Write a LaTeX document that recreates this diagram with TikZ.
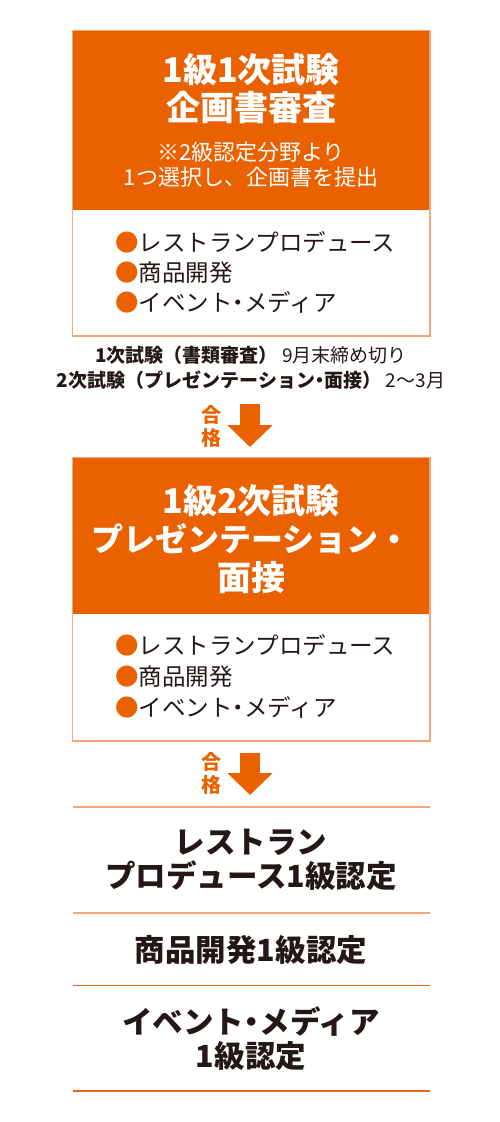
\documentclass[tikz,border=0pt]{standalone}
\usepackage{fontspec}
\setmainfont{Noto Sans CJK JP}
\usepackage{tikz}
\usetikzlibrary{positioning}
\usetikzlibrary{arrows.meta}
\definecolor{orng}{RGB}{234,97,0}
\definecolor{lorng}{RGB}{244,168,120}
\definecolor{dorng}{RGB}{226,100,30}
\definecolor{ink}{RGB}{35,24,21}
\newcommand{\bul}{\textcolor{orng}{●}}
\newcommand{\nakaten}{\hspace{-0.25em}・\hspace{-0.25em}}
\tikzset{%
  wbox/.style = {rectangle,draw=lorng,line width=1.5pt,fill=white,
        minimum width=357.5pt,inner sep=0pt},
  obox/.style = {rectangle,fill=orng,minimum width=356pt,inner sep=0pt},
  ttl/.style = {text=white,align=center,inner sep=0pt,
        font=\bfseries\fontsize{34}{38}\selectfont},
  sub/.style = {text=white,align=center,inner sep=0pt,
        font=\fontsize{22}{25}\selectfont},
  lst/.style = {text=ink,align=left,inner sep=0pt,anchor=west,
        font=\fontsize{23.5}{30}\selectfont},
  note/.style = {text=ink,align=center,inner sep=0pt,
        font=\fontsize{19}{25}\selectfont},
  passlabel/.style = {text=orng,align=center,inner sep=0pt,
        font=\bfseries\fontsize{20}{23}\selectfont},
  passarrow/.style = {draw=orng,line width=20pt,
        -{Triangle[width=44pt,length=22pt]}},
  cert/.style = {text=ink,align=center,inner sep=0pt,
        font=\bfseries\fontsize{30.5}{34}\selectfont},
  lsep/.style = {draw=lorng,line width=1.5pt},
  dsep/.style = {draw=dorng,line width=1.2pt}
}
\begin{document}
\begin{tikzpicture}[x=1pt,y=-1pt]
    \useasboundingbox (0,0) rectangle (500,1122);
    % first exam
    \node[wbox,minimum height=305.3pt] (b1) at (251.25,183.35) {};
    \node[obox,minimum height=179pt,anchor=north] (h1) at ([yshift=-0.75pt]b1.north) {};
    \node[ttl] (t1) at (251,89) {1級1次試験\\企画書審査};
    \node[sub] (s1) at (251,164.5) {※2級認定分野より\\1つ選択し、企画書を提出};
    \node[lst] (l1) at (115,272) {\bul レストランプロデュース\\\bul 商品開発\\\bul イベント\nakaten メディア};
    % schedule
    \node[note] (n1) at (251,367.5) {\textbf{1次試験（書類審査）} 9月末締め切り\\
        \textbf{2次試験（プレゼンテーション\nakaten 面接）} 2〜3月};
    \node[passlabel] (p1) at (211,426.5) {合\\格};
    \coordinate (a1s) at (250,404);
    \coordinate (a1e) at (250,447);
    \draw[passarrow] (a1s) -- (a1e);
    % second exam
    \node[wbox,minimum height=283pt] (b2) at (251.25,599.5) {};
    \node[obox,minimum height=156pt,anchor=north] (h2) at ([yshift=-0.75pt]b2.north) {};
    \node[ttl,font=\bfseries\fontsize{34}{38.5}\selectfont] (t2) at (251,539)
        {1級2次試験\\{\fontsize{32}{38.5}\selectfont プレゼンテーション・}\\面接};
    \node[lst,font=\fontsize{23.5}{31}\selectfont] (l2) at (115,676) {\bul レストランプロデュース\\\bul 商品開発\\\bul イベント\nakaten メディア};
    \node[passlabel] (p2) at (211,773.5) {合\\格};
    \coordinate (a2s) at (250,753);
    \coordinate (a2e) at (250,795);
    \draw[passarrow] (a2s) -- (a2e);
    % certificates
    \draw[lsep] (73,807) -- (430,807);
    \node[cert] (c1) at (251,860) {レストラン\\プロデュース1級認定};
    \draw[lsep] (73,913) -- (430,913);
    \node[cert] (c2) at (251,950) {商品開発1級認定};
    \draw[dsep] (73,985.5) -- (430,985.5);
    \node[cert] (c3) at (251,1038.5) {イベント\nakaten メディア\\1級認定};
    \draw[dsep] (73,1091) -- (430,1091);
\end{tikzpicture}
\end{document}
